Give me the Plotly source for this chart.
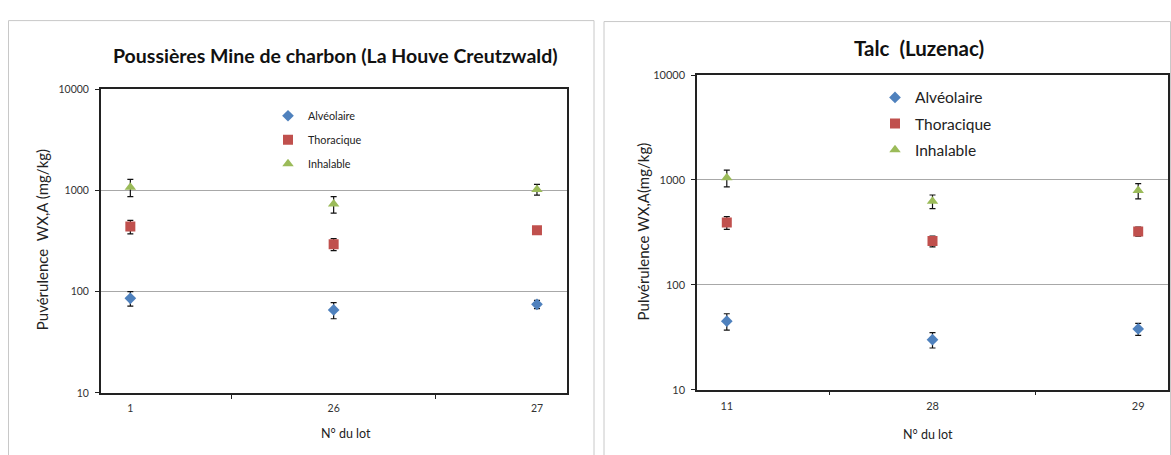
import plotly.graph_objects as go

# ---- data ----
lots_charbon = ["1", "26", "27"]
charbon_alv = [86, 66, 75]
charbon_alv_err = [14, 12, 7]
charbon_tho = [439, 294, 404]
charbon_tho_err = [67, 40, 14]
charbon_inh = [1076, 732, 1022]
charbon_inh_err = [210, 137, 125]

lots_talc = ["11", "28", "29"]
talc_alv = [45, 30, 38]
talc_alv_err = [8, 5, 5]
talc_tho = [392, 261, 323]
talc_tho_err = [54, 31, 32]
talc_inh = [1050, 625, 791]
talc_inh_err = [190, 93, 131]

series_names = ["Alvéolaire", "Thoracique", "Inhalable"]
y_ticks = [10, 100, 1000, 10000]

W, H = 1171, 455
FONT = "Lato, 'Open Sans', sans-serif"

styles = [
    dict(color="#4F81BD", symbol="diamond", size=9),
    dict(color="#C0504D", symbol="square", size=10),
    dict(color="#9BBB59", symbol="triangle-up", size=10),
]

fig = go.Figure()

left_sets = [(charbon_alv, charbon_alv_err), (charbon_tho, charbon_tho_err), (charbon_inh, charbon_inh_err)]
right_sets = [(talc_alv, talc_alv_err), (talc_tho, talc_tho_err), (talc_inh, talc_inh_err)]

for i, (vals, errs) in enumerate(left_sets):
    fig.add_trace(go.Scatter(
        x=lots_charbon, y=vals, mode="markers", name=series_names[i],
        marker=dict(color=styles[i]["color"], symbol=styles[i]["symbol"], size=styles[i]["size"]),
        error_y=dict(type="data", array=errs, color="#111", thickness=1.2, width=3),
        xaxis="x", yaxis="y", legend="legend", legendgroup="L%d" % i,
    ))
for i, (vals, errs) in enumerate(right_sets):
    fig.add_trace(go.Scatter(
        x=lots_talc, y=vals, mode="markers", name=series_names[i],
        marker=dict(color=styles[i]["color"], symbol=styles[i]["symbol"], size=styles[i]["size"]),
        error_y=dict(type="data", array=errs, color="#111", thickness=1.2, width=3),
        xaxis="x2", yaxis="y2", legend="legend2", legendgroup="R%d" % i,
    ))

def xax(domain, fs):
    return dict(domain=domain, type="category", tickson="boundaries", ticks="outside",
                ticklen=4, tickcolor="#222", showline=True, linecolor="#222", linewidth=1.5,
                mirror=True, showgrid=False, tickfont=dict(size=fs, color="#333", family=FONT),
                ticklabelstandoff=5, fixedrange=True)

def yax(domain, anchor, fs):
    return dict(domain=domain, anchor=anchor, type="log", range=[1, 4], tickvals=y_ticks,
                ticktext=[str(v) for v in y_ticks], ticks="outside", ticklen=4, tickcolor="#222",
                showline=True, linecolor="#222", linewidth=1.5, mirror=True,
                showgrid=True, gridcolor="#a8a8a8", gridwidth=1, ticklabelstandoff=4,
                tickfont=dict(size=fs, color="#333", family=FONT), fixedrange=True)

def ann(text, x, y, size, bold=False, angle=0, color="#222"):
    return dict(text="<b>%s</b>" % text if bold else text, x=x / W, y=1 - y / H,
                xref="paper", yref="paper", xanchor="center", yanchor="middle",
                textangle=angle, showarrow=False,
                font=dict(size=size, family=FONT, color=color))

fig.update_layout(
    width=W, height=H,
    margin=dict(l=0, r=0, t=0, b=0),
    paper_bgcolor="white", plot_bgcolor="white",
    font=dict(family=FONT, color="#222"),
    xaxis=dict(**xax([100.8 / W, 566.5 / W], 10.5), anchor="y"),
    yaxis=yax([1 - 397.3 / H, 1 - 84.5 / H], "x", 10.5),
    xaxis2=dict(**xax([697 / W, 1168 / W], 11), anchor="y2"),
    yaxis2=yax([1 - 394 / H, 1 - 70 / H], "x2", 11),
    legend=dict(x=268 / W, y=1 - 97 / H, xanchor="left", yanchor="top",
                bgcolor="rgba(0,0,0,0)", font=dict(size=10.8, family=FONT, color="#222"),
                tracegroupgap=5),
    legend2=dict(x=875 / W, y=1 - 76 / H, xanchor="left", yanchor="top",
                 bgcolor="rgba(0,0,0,0)", font=dict(size=15.5, family=FONT, color="#222"),
                 tracegroupgap=3),
    showlegend=True,
    shapes=[
        dict(type="rect", xref="paper", yref="paper", x0=8.5 / W, x1=594 / W,
             y0=-0.05, y1=1 - 14 / H, line=dict(color="#c8c8c8", width=1)),
        dict(type="rect", xref="paper", yref="paper", x0=604 / W, x1=1170.5 / W,
             y0=-0.05, y1=1 - 15 / H, line=dict(color="#c8c8c8", width=1)),
    ],
    annotations=[
        ann("Poussières Mine de charbon (La Houve Creutzwald)", 335, 50, 19.5, bold=True, color="#111"),
        ann("Talc  (Luzenac)", 919, 42, 20.5, bold=True, color="#111"),
        ann("Puvérulence  WX,A (mg/kg)", 42, 240, 15, angle=-90),
        ann("Pulvérulence WX,A(mg/kg)", 643, 231, 15, angle=-90),
        ann("N° du lot", 346, 439, 12.5),
        ann("N° du lot", 928, 440, 12.5),
    ],
)

fig.write_html(
    "out.html",
    config={"displayModeBar": False},
    post_script="document.documentElement.style.margin='0';document.body.style.margin='0';"
                "document.body.style.padding='0';document.body.style.overflow='hidden';",
)
